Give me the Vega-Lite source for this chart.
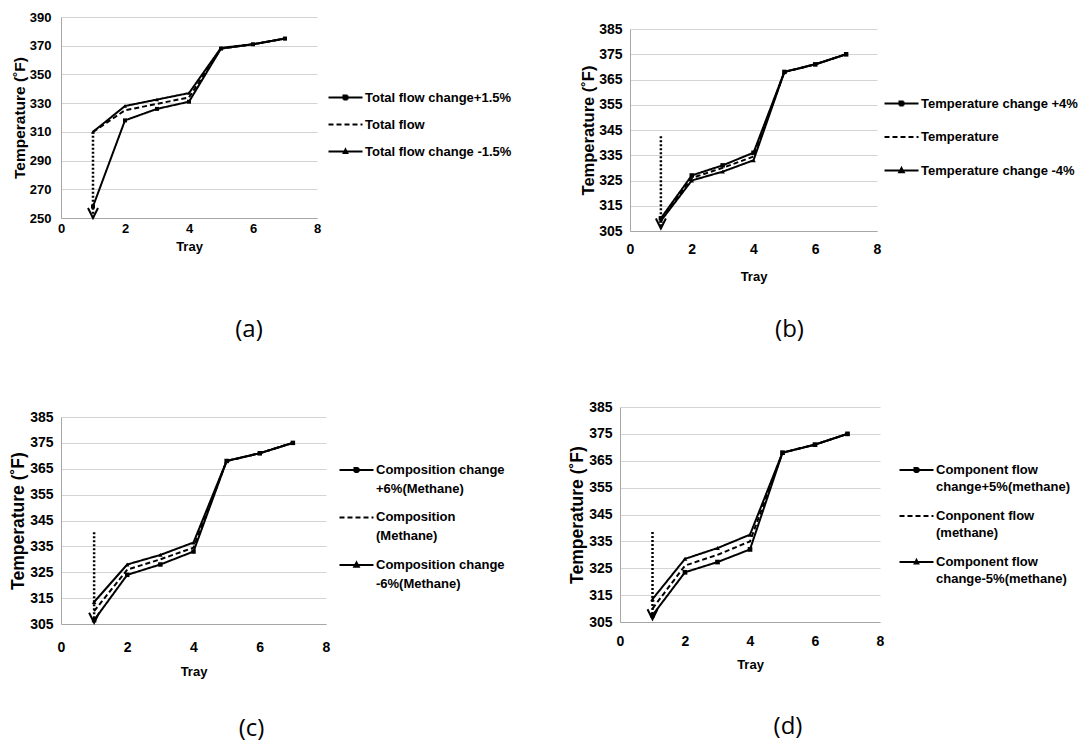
{
  "$schema": "https://vega.github.io/schema/vega-lite/v6.json",
  "background": "white",
  "padding": {"left": 9, "top": 11, "right": 0, "bottom": 0},
  "config": {
    "view": {"stroke": null},
    "axis": {
      "labelFont": "Liberation Sans", "labelFontWeight": "bold", "labelFontSize": 13, "labelColor": "#000",
      "titleFont": "Liberation Sans", "titleFontWeight": "bold", "titleFontSize": 13, "titleColor": "#000",
      "ticks": false, "domainColor": "#a6a6a6", "domainWidth": 1, "gridColor": "#d4d4d4", "gridWidth": 1,
      "labelOverlap": false, "labelFlush": false, "tickCount": 20, "format": "d"
    },
    "axisX": {"grid": false},
    "axisY": {"grid": true, "titlePadding": 2},
    "legend": {
      "orient": "none", "title": null,
      "labelFont": "Liberation Sans", "labelFontWeight": "bold", "labelFontSize": 13, "labelColor": "#000",
      "labelLimit": 400, "symbolSize": 100, "symbolStrokeWidth": 2, "symbolStrokeColor": "#000",
      "labelOffset": 13, "rowPadding": 14
    },
    "title": {"font": "Open Sans", "fontSize": 24, "fontWeight": "normal", "color": "#000", "orient": "bottom", "anchor": "middle"}
  },
  "datasets": {
    "totalFlow": [
      {"series": "Total flow change+1.5%", "tray": 1, "temp": 258},
      {"series": "Total flow change+1.5%", "tray": 2, "temp": 318},
      {"series": "Total flow change+1.5%", "tray": 3, "temp": 326},
      {"series": "Total flow change+1.5%", "tray": 4, "temp": 331},
      {"series": "Total flow change+1.5%", "tray": 5, "temp": 368},
      {"series": "Total flow change+1.5%", "tray": 6, "temp": 371},
      {"series": "Total flow change+1.5%", "tray": 7, "temp": 375},
      {"series": "Total flow", "tray": 1, "temp": 310},
      {"series": "Total flow", "tray": 2, "temp": 325},
      {"series": "Total flow", "tray": 3, "temp": 329.5},
      {"series": "Total flow", "tray": 4, "temp": 334},
      {"series": "Total flow", "tray": 5, "temp": 368},
      {"series": "Total flow", "tray": 6, "temp": 371},
      {"series": "Total flow", "tray": 7, "temp": 375},
      {"series": "Total flow change -1.5%", "tray": 1, "temp": 310},
      {"series": "Total flow change -1.5%", "tray": 2, "temp": 328},
      {"series": "Total flow change -1.5%", "tray": 3, "temp": 332.5},
      {"series": "Total flow change -1.5%", "tray": 4, "temp": 337},
      {"series": "Total flow change -1.5%", "tray": 5, "temp": 368.5},
      {"series": "Total flow change -1.5%", "tray": 6, "temp": 371},
      {"series": "Total flow change -1.5%", "tray": 7, "temp": 375}
    ],
    "temperature": [
      {"series": "Temperature change +4%", "tray": 1, "temp": 310},
      {"series": "Temperature change +4%", "tray": 2, "temp": 327},
      {"series": "Temperature change +4%", "tray": 3, "temp": 331},
      {"series": "Temperature change +4%", "tray": 4, "temp": 336},
      {"series": "Temperature change +4%", "tray": 5, "temp": 368},
      {"series": "Temperature change +4%", "tray": 6, "temp": 371},
      {"series": "Temperature change +4%", "tray": 7, "temp": 375},
      {"series": "Temperature", "tray": 1, "temp": 309.5},
      {"series": "Temperature", "tray": 2, "temp": 326},
      {"series": "Temperature", "tray": 3, "temp": 330},
      {"series": "Temperature", "tray": 4, "temp": 334.5},
      {"series": "Temperature", "tray": 5, "temp": 368},
      {"series": "Temperature", "tray": 6, "temp": 371},
      {"series": "Temperature", "tray": 7, "temp": 375},
      {"series": "Temperature change -4%", "tray": 1, "temp": 309},
      {"series": "Temperature change -4%", "tray": 2, "temp": 325},
      {"series": "Temperature change -4%", "tray": 3, "temp": 328.5},
      {"series": "Temperature change -4%", "tray": 4, "temp": 333},
      {"series": "Temperature change -4%", "tray": 5, "temp": 368},
      {"series": "Temperature change -4%", "tray": 6, "temp": 371},
      {"series": "Temperature change -4%", "tray": 7, "temp": 375}
    ],
    "composition": [
      {"series": "Composition change|+6%(Methane)", "tray": 1, "temp": 306.5},
      {"series": "Composition change|+6%(Methane)", "tray": 2, "temp": 324},
      {"series": "Composition change|+6%(Methane)", "tray": 3, "temp": 328},
      {"series": "Composition change|+6%(Methane)", "tray": 4, "temp": 333},
      {"series": "Composition change|+6%(Methane)", "tray": 5, "temp": 368},
      {"series": "Composition change|+6%(Methane)", "tray": 6, "temp": 371},
      {"series": "Composition change|+6%(Methane)", "tray": 7, "temp": 375},
      {"series": "Composition|(Methane)", "tray": 1, "temp": 310},
      {"series": "Composition|(Methane)", "tray": 2, "temp": 326},
      {"series": "Composition|(Methane)", "tray": 3, "temp": 330},
      {"series": "Composition|(Methane)", "tray": 4, "temp": 334.5},
      {"series": "Composition|(Methane)", "tray": 5, "temp": 368},
      {"series": "Composition|(Methane)", "tray": 6, "temp": 371},
      {"series": "Composition|(Methane)", "tray": 7, "temp": 375},
      {"series": "Composition change|-6%(Methane)", "tray": 1, "temp": 313.5},
      {"series": "Composition change|-6%(Methane)", "tray": 2, "temp": 328},
      {"series": "Composition change|-6%(Methane)", "tray": 3, "temp": 331.7},
      {"series": "Composition change|-6%(Methane)", "tray": 4, "temp": 336.5},
      {"series": "Composition change|-6%(Methane)", "tray": 5, "temp": 368},
      {"series": "Composition change|-6%(Methane)", "tray": 6, "temp": 371},
      {"series": "Composition change|-6%(Methane)", "tray": 7, "temp": 375}
    ],
    "componentFlow": [
      {"series": "Component flow|change+5%(methane)", "tray": 1, "temp": 307.5},
      {"series": "Component flow|change+5%(methane)", "tray": 2, "temp": 323.5},
      {"series": "Component flow|change+5%(methane)", "tray": 3, "temp": 327.3},
      {"series": "Component flow|change+5%(methane)", "tray": 4, "temp": 332},
      {"series": "Component flow|change+5%(methane)", "tray": 5, "temp": 368},
      {"series": "Component flow|change+5%(methane)", "tray": 6, "temp": 371},
      {"series": "Component flow|change+5%(methane)", "tray": 7, "temp": 375},
      {"series": "Conponent flow|(methane)", "tray": 1, "temp": 310},
      {"series": "Conponent flow|(methane)", "tray": 2, "temp": 326},
      {"series": "Conponent flow|(methane)", "tray": 3, "temp": 330},
      {"series": "Conponent flow|(methane)", "tray": 4, "temp": 335},
      {"series": "Conponent flow|(methane)", "tray": 5, "temp": 368},
      {"series": "Conponent flow|(methane)", "tray": 6, "temp": 371},
      {"series": "Conponent flow|(methane)", "tray": 7, "temp": 375},
      {"series": "Component flow|change-5%(methane)", "tray": 1, "temp": 313.5},
      {"series": "Component flow|change-5%(methane)", "tray": 2, "temp": 328.5},
      {"series": "Component flow|change-5%(methane)", "tray": 3, "temp": 332.5},
      {"series": "Component flow|change-5%(methane)", "tray": 4, "temp": 337.5},
      {"series": "Component flow|change-5%(methane)", "tray": 5, "temp": 368},
      {"series": "Component flow|change-5%(methane)", "tray": 6, "temp": 371},
      {"series": "Component flow|change-5%(methane)", "tray": 7, "temp": 375}
    ],
    "arrowA": [{"tray": 1, "from": 310, "to": 250}],
    "arrowB": [{"tray": 1, "from": 342.5, "to": 306}],
    "arrowC": [{"tray": 1, "from": 340.5, "to": 305.5}],
    "arrowD": [{"tray": 1, "from": 338.5, "to": 306}],
    "blank": []
  },
  "resolve": {"scale": {"strokeDash": "independent", "shape": "independent"}, "legend": {"strokeDash": "independent", "shape": "independent"}},
  "spacing": 58,
  "vconcat": [
    {
      "spacing": 68,
      "resolve": {"scale": {"strokeDash": "independent", "shape": "independent"}, "legend": {"strokeDash": "independent", "shape": "independent"}},
      "hconcat": [
        {
          "width": 256, "height": 201,
          "title": {"text": "(a)", "dx": 60, "offset": 64},
          "layer": [
            {
              "data": {"name": "totalFlow"},
              "mark": {"type": "line", "strokeWidth": 2, "color": "#000"},
              "encoding": {
                "x": {"field": "tray", "type": "quantitative", "title": "Tray", "scale": {"domain": [0, 8], "nice": false}, "axis": {"values": [0, 2, 4, 6, 8], "labelPadding": 4.5, "titlePadding": 5}},
                "y": {"field": "temp", "type": "quantitative", "title": "Temperature (˚F)", "scale": {"domain": [250, 390], "nice": false, "zero": false}, "axis": {"values": [250, 270, 290, 310, 330, 350, 370, 390], "labelPadding": 10, "titleFontSize": 15.5}},
                "strokeDash": {
                  "field": "series", "type": "nominal",
                  "scale": {"domain": ["Total flow change+1.5%", "Total flow", "Total flow change -1.5%"], "range": [[1, 0], [5, 3], [1, 0]]},
                  "legend": {
                    "orient": "none", "legendX": 278, "legendY": 74, "rowPadding": 13,
                    "encode": {"symbols": {"update": {
                      "fill": {"value": "#000"}, "stroke": {"value": "#000"}, "strokeWidth": {"value": 2}, "opacity": {"value": 1},
                      "shape": {"signal": "indexof(datum.value, '+') >= 0 ? 'M-3.4,0L3.4,0M-0.4,-0.4L0.4,-0.4L0.4,0.4L-0.4,0.4Z' : indexof(datum.value, '-') >= 0 ? 'M-3.4,0L3.4,0M0,-0.4L0.35,0.3L-0.35,0.3Z' : 'M-3.4,0L3.4,0'"}
                    }}}
                  }
                }
              }
            },
            {
              "data": {"name": "totalFlow"},
              "transform": [{"filter": {"field": "series", "oneOf": ["Total flow change+1.5%", "Total flow change -1.5%"]}}],
              "mark": {"type": "point", "filled": true, "color": "#000", "opacity": 1},
              "encoding": {
                "x": {"field": "tray", "type": "quantitative"},
                "y": {"field": "temp", "type": "quantitative"},
                "shape": {"field": "series", "type": "nominal", "scale": {"domain": ["Total flow change+1.5%", "Total flow change -1.5%"], "range": ["square", "triangle-up"]}, "legend": null},
                "size": {"value": 16}
              }
            },
            {
              "data": {"name": "arrowA"},
              "mark": {"type": "rule", "strokeDash": [2, 2], "strokeWidth": 2.5, "color": "#000"},
              "encoding": {"x": {"field": "tray", "type": "quantitative"}, "y": {"field": "from", "type": "quantitative"}, "y2": {"field": "to"}}
            },
            {
              "data": {"name": "arrowA"},
              "mark": {"type": "point", "shape": "M-1,-2L0,0L1,-2", "size": 100, "strokeWidth": 2, "color": "#000", "filled": false, "opacity": 1},
              "encoding": {"x": {"field": "tray", "type": "quantitative"}, "y": {"field": "to", "type": "quantitative"}}
            }
          ]
        },
        {
          "spacing": 0,
          "resolve": {"scale": {"strokeDash": "independent", "shape": "independent"}, "legend": {"strokeDash": "independent", "shape": "independent"}},
          "vconcat": [
            {"width": 10, "height": 5, "data": {"name": "blank"}, "mark": "point"},
            {
              "width": 247, "height": 202,
              "title": {"text": "(b)", "dx": 36, "offset": 34},
              "layer": [
                {
                  "data": {"name": "temperature"},
                  "mark": {"type": "line", "strokeWidth": 2, "color": "#000"},
                  "encoding": {
                    "x": {"field": "tray", "type": "quantitative", "title": "Tray", "scale": {"domain": [0, 8], "nice": false}, "axis": {"values": [0, 2, 4, 6, 8], "labelFontSize": 14, "labelPadding": 11.5, "titlePadding": 14}},
                    "y": {"field": "temp", "type": "quantitative", "title": "Temperature (˚F)", "scale": {"domain": [305, 385], "nice": false, "zero": false}, "axis": {"values": [305, 315, 325, 335, 345, 355, 365, 375, 385], "labelFontSize": 14, "labelPadding": 8, "titleFontSize": 16.5}},
                    "strokeDash": {
                      "field": "series", "type": "nominal",
                      "scale": {"domain": ["Temperature change +4%", "Temperature", "Temperature change -4%"], "range": [[1, 0], [5, 3], [1, 0]]},
                      "legend": {
                        "orient": "none", "legendX": 265, "legendY": 68, "rowPadding": 19.5,
                        "encode": {"symbols": {"update": {
                          "fill": {"value": "#000"}, "stroke": {"value": "#000"}, "strokeWidth": {"value": 2}, "opacity": {"value": 1},
                          "shape": {"signal": "indexof(datum.value, '+') >= 0 ? 'M-3.4,0L3.4,0M-0.4,-0.4L0.4,-0.4L0.4,0.4L-0.4,0.4Z' : indexof(datum.value, '-') >= 0 ? 'M-3.4,0L3.4,0M0,-0.5L0.45,0.35L-0.45,0.35Z' : 'M-3.4,0L3.4,0'"}
                        }}}
                      }
                    }
                  }
                },
                {
                  "data": {"name": "temperature"},
                  "transform": [{"filter": {"field": "series", "oneOf": ["Temperature change +4%", "Temperature change -4%"]}}],
                  "mark": {"type": "point", "filled": true, "color": "#000", "opacity": 1},
                  "encoding": {
                    "x": {"field": "tray", "type": "quantitative"},
                    "y": {"field": "temp", "type": "quantitative"},
                    "shape": {"field": "series", "type": "nominal", "scale": {"domain": ["Temperature change +4%", "Temperature change -4%"], "range": ["square", "triangle-up"]}, "legend": null},
                    "size": {"value": 20}
                  }
                },
                {
                  "data": {"name": "arrowB"},
                  "mark": {"type": "rule", "strokeDash": [2, 2], "strokeWidth": 2.5, "color": "#000"},
                  "encoding": {"x": {"field": "tray", "type": "quantitative"}, "y": {"field": "from", "type": "quantitative"}, "y2": {"field": "to"}}
                },
                {
                  "data": {"name": "arrowB"},
                  "mark": {"type": "point", "shape": "M-1,-2L0,0L1,-2", "size": 100, "strokeWidth": 2, "color": "#000", "filled": false, "opacity": 1},
                  "encoding": {"x": {"field": "tray", "type": "quantitative"}, "y": {"field": "to", "type": "quantitative"}}
                }
              ]
            }
          ]
        }
      ]
    },
    {
      "spacing": 63,
      "resolve": {"scale": {"strokeDash": "independent", "shape": "independent"}, "legend": {"strokeDash": "independent", "shape": "independent"}},
      "hconcat": [
        {
          "spacing": 0,
          "resolve": {"scale": {"strokeDash": "independent", "shape": "independent"}, "legend": {"strokeDash": "independent", "shape": "independent"}},
          "vconcat": [
            {"width": 10, "height": 3, "data": {"name": "blank"}, "mark": "point"},
            {
              "width": 265, "height": 207,
              "title": {"text": "(c)", "dx": 58, "offset": 38},
              "layer": [
                {
                  "data": {"name": "composition"},
                  "mark": {"type": "line", "strokeWidth": 2, "color": "#000"},
                  "encoding": {
                    "x": {"field": "tray", "type": "quantitative", "title": "Tray", "scale": {"domain": [0, 8], "nice": false}, "axis": {"values": [0, 2, 4, 6, 8], "labelFontSize": 14, "labelPadding": 16.5, "titlePadding": 11}},
                    "y": {"field": "temp", "type": "quantitative", "title": "Temperature (˚F)", "scale": {"domain": [305, 385], "nice": false, "zero": false}, "axis": {"values": [305, 315, 325, 335, 345, 355, 365, 375, 385], "labelFontSize": 14, "labelPadding": 8, "titleFontSize": 17.5}},
                    "strokeDash": {
                      "field": "series", "type": "nominal",
                      "scale": {"domain": ["Composition change|+6%(Methane)", "Composition|(Methane)", "Composition change|-6%(Methane)"], "range": [[1, 0], [5, 3], [1, 0]]},
                      "legend": {
                        "orient": "none", "legendX": 289, "legendY": 40, "rowPadding": 8.5, "labelBaseline": "top",
                        "labelExpr": "split(datum.label, '|')",
                        "encode": {
                          "labels": {"update": {"lineHeight": {"value": 19}}},
                          "symbols": {"update": {
                            "fill": {"value": "#000"}, "stroke": {"value": "#000"}, "strokeWidth": {"value": 2}, "opacity": {"value": 1},
                            "shape": {"signal": "indexof(datum.value, '+') >= 0 ? 'M-3.4,1.3L3.4,1.3M-0.4,0.9L0.4,0.9L0.4,1.7L-0.4,1.7Z' : indexof(datum.value, '-') >= 0 ? 'M-3.4,1.3L3.4,1.3M0,0.8L0.45,1.65L-0.45,1.65Z' : 'M-3.4,1.3L3.4,1.3'"}
                          }}
                        }
                      }
                    }
                  }
                },
                {
                  "data": {"name": "composition"},
                  "transform": [{"filter": {"field": "series", "oneOf": ["Composition change|+6%(Methane)", "Composition change|-6%(Methane)"]}}],
                  "mark": {"type": "point", "filled": true, "color": "#000", "opacity": 1},
                  "encoding": {
                    "x": {"field": "tray", "type": "quantitative"},
                    "y": {"field": "temp", "type": "quantitative"},
                    "shape": {"field": "series", "type": "nominal", "scale": {"domain": ["Composition change|+6%(Methane)", "Composition change|-6%(Methane)"], "range": ["square", "triangle-up"]}, "legend": null},
                    "size": {"value": 20}
                  }
                },
                {
                  "data": {"name": "arrowC"},
                  "mark": {"type": "rule", "strokeDash": [2, 2], "strokeWidth": 2.5, "color": "#000"},
                  "encoding": {"x": {"field": "tray", "type": "quantitative"}, "y": {"field": "from", "type": "quantitative"}, "y2": {"field": "to"}}
                },
                {
                  "data": {"name": "arrowC"},
                  "mark": {"type": "point", "shape": "M-1,-2L0,0L1,-2", "size": 100, "strokeWidth": 2, "color": "#000", "filled": false, "opacity": 1},
                  "encoding": {"x": {"field": "tray", "type": "quantitative"}, "y": {"field": "to", "type": "quantitative"}}
                }
              ]
            }
          ]
        },
        {
          "width": 260, "height": 215,
          "title": {"text": "(d)", "dx": 38, "offset": 43},
          "layer": [
            {
              "data": {"name": "componentFlow"},
              "mark": {"type": "line", "strokeWidth": 2, "color": "#000"},
              "encoding": {
                "x": {"field": "tray", "type": "quantitative", "title": "Tray", "scale": {"domain": [0, 8], "nice": false}, "axis": {"values": [0, 2, 4, 6, 8], "labelFontSize": 14, "labelPadding": 12.5, "titlePadding": 10}},
                "y": {"field": "temp", "type": "quantitative", "title": "Temperature (˚F)", "scale": {"domain": [305, 385], "nice": false, "zero": false}, "axis": {"values": [305, 315, 325, 335, 345, 355, 365, 375, 385], "labelFontSize": 14, "labelPadding": 8, "titleFontSize": 17.5}},
                "strokeDash": {
                  "field": "series", "type": "nominal",
                  "scale": {"domain": ["Component flow|change+5%(methane)", "Conponent flow|(methane)", "Component flow|change-5%(methane)"], "range": [[1, 0], [5, 3], [1, 0]]},
                  "legend": {
                    "orient": "none", "legendX": 290, "legendY": 50, "rowPadding": 9, "labelBaseline": "top",
                    "labelExpr": "split(datum.label, '|')",
                    "encode": {
                      "labels": {"update": {"lineHeight": {"value": 17}}},
                      "symbols": {"update": {
                        "fill": {"value": "#000"}, "stroke": {"value": "#000"}, "strokeWidth": {"value": 2}, "opacity": {"value": 1},
                        "shape": {"signal": "indexof(datum.value, '+') >= 0 ? 'M-3.4,1.3L3.4,1.3M-0.4,0.9L0.4,0.9L0.4,1.7L-0.4,1.7Z' : indexof(datum.value, '-') >= 0 ? 'M-3.4,1.3L3.4,1.3M0,0.9L0.35,1.6L-0.35,1.6Z' : 'M-3.4,1.3L3.4,1.3'"}
                      }}
                    }
                  }
                }
              }
            },
            {
              "data": {"name": "componentFlow"},
              "transform": [{"filter": {"field": "series", "oneOf": ["Component flow|change+5%(methane)", "Component flow|change-5%(methane)"]}}],
              "mark": {"type": "point", "filled": true, "color": "#000", "opacity": 1},
              "encoding": {
                "x": {"field": "tray", "type": "quantitative"},
                "y": {"field": "temp", "type": "quantitative"},
                "shape": {"field": "series", "type": "nominal", "scale": {"domain": ["Component flow|change+5%(methane)", "Component flow|change-5%(methane)"], "range": ["square", "triangle-up"]}, "legend": null},
                "size": {"value": 22}
              }
            },
            {
              "data": {"name": "arrowD"},
              "mark": {"type": "rule", "strokeDash": [2, 2], "strokeWidth": 2.5, "color": "#000"},
              "encoding": {"x": {"field": "tray", "type": "quantitative"}, "y": {"field": "from", "type": "quantitative"}, "y2": {"field": "to"}}
            },
            {
              "data": {"name": "arrowD"},
              "mark": {"type": "point", "shape": "M-1,-2L0,0L1,-2", "size": 100, "strokeWidth": 2, "color": "#000", "filled": false, "opacity": 1},
              "encoding": {"x": {"field": "tray", "type": "quantitative"}, "y": {"field": "to", "type": "quantitative"}}
            }
          ]
        }
      ]
    }
  ]
}
